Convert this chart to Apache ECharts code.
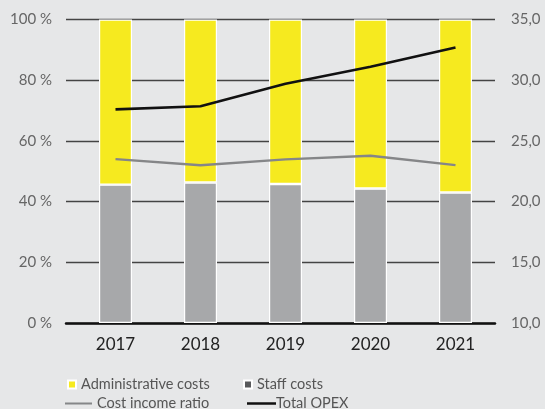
<!DOCTYPE html>
<html>
<head>
<meta charset="utf-8">
<script src="https://cdn.jsdelivr.net/npm/echarts@6/dist/echarts.min.js"></script>
<style>
  html, body { margin: 0; padding: 0; background: #e6e7e8; }
  #chart { width: 545px; height: 409px; }
</style>
</head>
<body>
<div id="chart"></div>
<script>
// Years on the category axis
const years = ['2017', '2018', '2019', '2020', '2021'];
// Share of total operating expenses, in %
const staffShare = [45.6, 46.3, 45.8, 44.3, 43.0];
const adminShare = [54.4, 53.7, 54.2, 55.7, 57.0];
// Cost income ratio, in % (left axis)
const costIncomeRatio = [54.0, 52.0, 53.9, 55.1, 52.0];
// Total operating expenses (right axis)
const totalOpex = [27.6, 27.85, 29.7, 31.1, 32.7];
// Axis ticks
const leftTicks = { min: 0, max: 100, step: 20 };
const rightTicks = { min: 10, max: 35, step: 5 };

const FONT = 'Lato, "Open Sans", sans-serif';
const legendText = { color: '#555', fontSize: 14.5, fontFamily: FONT };

const chart = echarts.init(document.getElementById('chart'), null, { renderer: 'canvas' });

// Grid 0 carries the frame (gridlines, value labels, base line);
// grid 1 carries the bars and lines, offset slightly to the right.
const plotTop = 19.5, plotBottom = 86;

chart.setOption({
  backgroundColor: '#e6e7e8',
  animation: false,
  grid: [
    { left: 66, right: 50, top: plotTop, bottom: plotBottom },
    { left: 73, right: 47, top: plotTop, bottom: plotBottom }
  ],
  xAxis: [
    {
      gridIndex: 0, type: 'category', data: years,
      axisTick: { show: false },
      axisLabel: { show: false },
      axisLine: { lineStyle: { color: '#111', width: 2.5 } }
    },
    {
      gridIndex: 1, type: 'category', data: years,
      axisTick: { show: false },
      axisLine: { show: false },
      axisLabel: { color: '#222', fontSize: 17, fontFamily: FONT, margin: 13 }
    }
  ],
  yAxis: [
    {
      gridIndex: 0, type: 'value',
      min: leftTicks.min, max: leftTicks.max, interval: leftTicks.step,
      axisLine: { show: false },
      axisTick: { show: false },
      axisLabel: { color: '#666', fontSize: 15, fontFamily: FONT, margin: 14,
                   formatter: v => v + ' %' },
      splitLine: { lineStyle: { color: '#444', width: 1.3 } }
    },
    {
      gridIndex: 0, type: 'value',
      min: rightTicks.min, max: rightTicks.max, interval: rightTicks.step,
      position: 'right',
      axisLine: { show: false },
      axisTick: { show: false },
      axisLabel: { color: '#666', fontSize: 15, fontFamily: FONT, margin: 16,
                   formatter: v => v.toFixed(1).replace('.', ',') },
      splitLine: { show: false }
    },
    {
      gridIndex: 1, type: 'value',
      min: leftTicks.min, max: leftTicks.max, interval: leftTicks.step,
      show: false, splitLine: { show: false }
    },
    {
      gridIndex: 1, type: 'value',
      min: rightTicks.min, max: rightTicks.max, interval: rightTicks.step,
      show: false, splitLine: { show: false }
    }
  ],
  legend: [
    { left: 62, top: 372, itemWidth: 8, itemHeight: 8, textStyle: legendText,
      data: [{ name: 'Administrative costs', icon: 'rect' }] },
    { left: 238, top: 372, itemWidth: 8, itemHeight: 8, textStyle: legendText,
      data: [{ name: 'Staff costs', icon: 'rect', itemStyle: { color: '#58595b' } }] },
    { left: 60, top: 391, itemWidth: 27, itemHeight: 2, textStyle: legendText,
      data: [{ name: 'Cost income ratio', icon: 'rect' }] },
    { left: 242, top: 391, itemWidth: 29, itemHeight: 2.5,
      textStyle: Object.assign({}, legendText, { padding: [0, 0, 0, -5] }),
      data: [{ name: 'Total OPEX', icon: 'rect' }] }
  ],
  series: [
    {
      name: 'Staff costs', type: 'bar', stack: 'share', barWidth: 33,
      xAxisIndex: 1, yAxisIndex: 2,
      data: staffShare,
      itemStyle: { color: '#a7a8aa', borderColor: '#ffffff', borderWidth: 1.2 }
    },
    {
      name: 'Administrative costs', type: 'bar', stack: 'share', barWidth: 33,
      xAxisIndex: 1, yAxisIndex: 2,
      data: adminShare,
      itemStyle: { color: '#f6ea1f', borderColor: '#ffffff', borderWidth: 1.2 }
    },
    {
      name: 'Cost income ratio', type: 'line',
      xAxisIndex: 1, yAxisIndex: 2,
      data: costIncomeRatio, symbol: 'none',
      lineStyle: { color: '#858688', width: 2.4 },
      itemStyle: { color: '#858688' }, z: 5
    },
    {
      name: 'Total OPEX', type: 'line',
      xAxisIndex: 1, yAxisIndex: 3,
      data: totalOpex, symbol: 'none',
      lineStyle: { color: '#111', width: 2.6 },
      itemStyle: { color: '#111' }, z: 6
    }
  ]
});
</script>
</body>
</html>
